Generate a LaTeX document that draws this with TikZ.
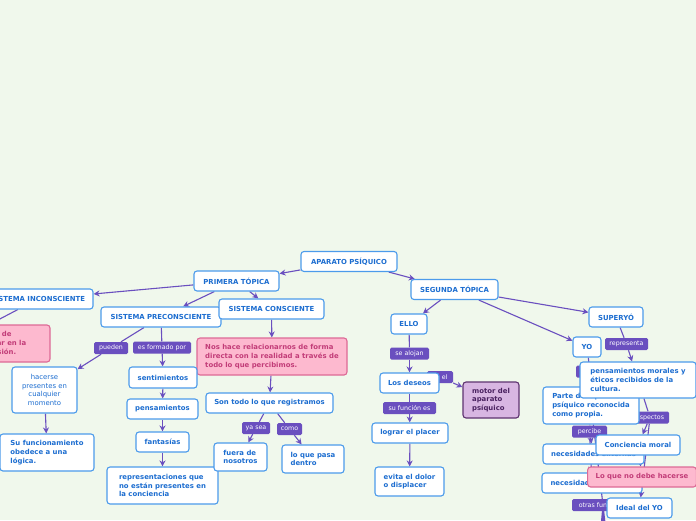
\documentclass[tikz,border=0pt]{standalone}
\usepackage{fontspec}
\setmainfont{DejaVu Sans}
\usetikzlibrary{arrows.meta,positioning,backgrounds}
\definecolor{Paper}{HTML}{F0F8EC}
\definecolor{Sky}{HTML}{4C9BEB}
\definecolor{Ink}{HTML}{1C6DD0}
\definecolor{Violet}{HTML}{6A4FBF}
\definecolor{Rose}{HTML}{FDB9CF}
\definecolor{RoseLine}{HTML}{DD6A96}
\definecolor{RoseInk}{HTML}{C23C78}
\definecolor{Lilac}{HTML}{D8B6E2}
\definecolor{Plum}{HTML}{5E3370}
\definecolor{PlumInk}{HTML}{4A2160}
\newcommand{\mapfont}{\fontsize{6.9}{8.7}\selectfont}
\tikzset{
  ideabox/.style={draw=Sky, line width=1.1pt, rounded corners=3pt, fill=white, text=Ink, align=left, font=\mapfont\bfseries, inner xsep=8pt, inner ysep=2pt, minimum height=20pt},
  rosebox/.style={ideabox, draw=RoseLine, fill=Rose, text=RoseInk},
  plumbox/.style={ideabox, draw=Plum, fill=Lilac, text=PlumInk},
  linklabel/.style={fill=Violet, rounded corners=1.5pt, text=white, font=\fontsize{6.3}{7}\selectfont, inner sep=0pt, minimum height=12pt},
  link/.style={line width=1.1pt, draw=Violet},
  arrow/.style={link, -{Stealth[length=6pt,width=6pt]}}
}
\begin{document}
\begin{tikzpicture}[x=1pt, y=-1pt]
  \useasboundingbox (0,0) rectangle (696,520);

  % link labels
  \node[linklabel, minimum width=34pt] (pueden) at (111,348) {pueden};
  \node[linklabel, minimum width=58pt] (formado) at (162,347.5) {es formado por};
  \node[linklabel, minimum width=28pt] (yasea) at (256,428) {ya sea};
  \node[linklabel, minimum width=25pt] (como) at (289.5,429) {como};
  \node[linklabel, minimum width=39pt] (alojan) at (409.5,353.5) {se alojan};
  \node[linklabel, minimum width=26pt] (esel) at (440,377) {es el};
  \node[linklabel, minimum width=53pt] (funcion) at (409.5,408) {su función es};
  \node[linklabel, minimum width=43pt] (representa) at (626.5,344) {representa};
  \node[linklabel, minimum width=28pt] (yolink) at (590,371.5) {};
  \node[linklabel, minimum width=38pt] (aspectos) at (650,417.5) {aspectos};
  \node[linklabel, minimum width=35pt] (percibe) at (589.5,431.5) {percibe};
  \node[linklabel, minimum width=62pt] (otras) at (603,505) {otras funciones};

  % topics
  \node[ideabox, minimum width=96pt] (aparato) at (349,261.5) {APARATO PSÍQUICO};
  \node[ideabox, minimum width=85pt] (primera) at (236.5,281) {PRIMERA TÓPICA};
  \node[ideabox, minimum width=87pt] (segunda) at (454.5,289.5) {SEGUNDA TÓPICA};

  % primera topica
  \node[ideabox, minimum width=110pt] (inconsciente) at (38,299) {SISTEMA INCONSCIENTE};
  \node[ideabox, minimum width=120pt] (preconsciente) at (161,317) {SISTEMA PRECONSCIENTE};
  \node[ideabox, minimum width=105pt] (consciente) at (271.5,309) {SISTEMA CONSCIENTE};
  \node[rosebox, minimum width=194pt, minimum height=37pt] (deposito) at (-47,343.5) {Guarda los deseos y recuerdos de\\reprimidos que no pueden estar en la\\conciencia a causa de la represión.};
  \node[rosebox, minimum width=150pt, minimum height=37pt] (relacion) at (272,356.5) {Nos hace relacionarnos de forma\\directa con la realidad a través de\\todo lo que percibimos.};
  \node[ideabox, font=\mapfont, align=center, minimum width=65pt, minimum height=46pt] (hacerse) at (44.5,390) {hacerse\\presentes en\\cualquier\\momento};
  \node[ideabox, minimum width=94pt, minimum height=37pt] (logica) at (47,452.5) {Su funcionamiento\\obedece a una\\lógica.};
  \node[ideabox, minimum width=68pt, minimum height=21pt] (sentimientos) at (163,377.5) {sentimientos};
  \node[ideabox, minimum width=71pt] (pensamientos) at (162.5,409) {pensamientos};
  \node[ideabox, minimum width=53pt] (fantasias) at (162.5,442) {fantasías};
  \node[ideabox, minimum width=111pt, minimum height=37pt] (representaciones) at (162.5,485.5) {representaciones que\\no están presentes en\\la conciencia};
  \node[ideabox, minimum width=127pt] (registro) at (269.5,403) {Son todo lo que registramos};
  \node[ideabox, minimum width=53pt, minimum height=28pt] (fuera) at (240.5,457) {fuera de\\nosotros};
  \node[ideabox, minimum width=62pt, minimum height=28pt] (dentro) at (313,459) {lo que pasa\\dentro};

  % segunda topica
  \node[ideabox, minimum width=36pt] (ello) at (409,324) {ELLO};
  \node[ideabox, minimum width=59pt] (deseos) at (409.5,383) {Los deseos};
  \node[plumbox, minimum width=56pt, minimum height=36pt] (motor) at (491,400) {motor del\\aparato\\psíquico};
  \node[ideabox, minimum width=76pt] (placer) at (410,433) {lograr el placer};
  \node[ideabox, minimum width=69pt, minimum height=29pt] (dolor) at (409.5,481.5) {evita el dolor\\o displacer};
  \node[ideabox, minimum width=54pt] (superyo) at (616,317) {SUPERYÓ};
  \node[ideabox, minimum width=28pt, inner xsep=4pt] (yo) at (587,347) {YO};
  \node[ideabox, minimum width=96pt, minimum height=37pt] (parte) at (591,405.5) {Parte del aparato\\psíquico reconocida\\como propia.};
  \node[ideabox, minimum width=116pt, minimum height=36pt] (morales) at (638,380) {pensamientos morales y\\éticos recibidos de la\\cultura.};
  \node[ideabox, minimum width=101pt] (externas) at (593.5,454) {necesidades externas};
  \node[ideabox, minimum width=84pt] (conciencia) at (638,445) {Conciencia moral};
  \node[ideabox, minimum width=100pt] (internas) at (592,483) {necesidades internas};
  \node[rosebox, minimum width=108pt] (nodebe) at (642,477) {Lo que no debe hacerse};
  \node[ideabox, minimum width=65pt] (ideal) at (639.5,508) {Ideal del YO};

  \coordinate (otrasA) at (598,560);
  \coordinate (otrasB) at (603,560);
  \coordinate (otrasC) at (609,560);

  \begin{pgfonlayer}{background}
    \fill[Paper] (0,0) rectangle (696,520);
    \draw[arrow] (aparato) -- (primera);
    \draw[arrow] (aparato) -- (segunda);
    \draw[arrow] (primera) -- (inconsciente);
    \draw[arrow] (primera) -- (preconsciente);
    \draw[arrow] (primera) -- (consciente);
    \draw[arrow] (inconsciente) -- (deposito);
    \draw[link] (preconsciente) -- (pueden);
    \draw[arrow] (pueden) -- (hacerse);
    \draw[arrow] (hacerse) -- (logica);
    \draw[link] (preconsciente) -- (formado);
    \draw[arrow] (formado) -- (sentimientos);
    \draw[arrow] (sentimientos) -- (pensamientos);
    \draw[arrow] (pensamientos) -- (fantasias);
    \draw[arrow] (fantasias) -- (representaciones);
    \draw[arrow] (consciente) -- (relacion);
    \draw[arrow] (relacion) -- (registro);
    \draw[link] (registro) -- (yasea);
    \draw[arrow] (yasea) -- (fuera);
    \draw[link] (registro) -- (como);
    \draw[arrow] (como) -- (dentro);
    \draw[arrow] (segunda) -- (ello);
    \draw[arrow] (segunda) -- (superyo);
    \draw[arrow] (segunda) -- (yo);
    \draw[link] (ello) -- (alojan);
    \draw[arrow] (alojan) -- (deseos);
    \draw[link] (deseos) -- (esel);
    \draw[arrow] (esel) -- (motor);
    \draw[link] (deseos) -- (funcion);
    \draw[arrow] (funcion) -- (placer);
    \draw[arrow] (placer) -- (dolor);
    \draw[link] (superyo) -- (representa);
    \draw[arrow] (representa) -- (morales);
    \draw[link] (morales) -- (aspectos);
    \draw[arrow] (aspectos) -- (conciencia);
    \draw[arrow] (aspectos) -- (ideal);
    \draw[arrow] (conciencia) -- (nodebe);
    \draw[link] (yo) -- (yolink);
    \draw[arrow] (yolink) -- (parte);
    \draw[link] (parte) -- (percibe);
    \draw[arrow] (percibe) -- (externas);
    \draw[arrow] (percibe) -- (internas);
    \draw[link] (parte) -- (otras);
    \draw[arrow] (otras) -- (otrasA);
    \draw[arrow] (otras) -- (otrasB);
    \draw[arrow] (otras) -- (otrasC);
  \end{pgfonlayer}
\end{tikzpicture}
\end{document}
